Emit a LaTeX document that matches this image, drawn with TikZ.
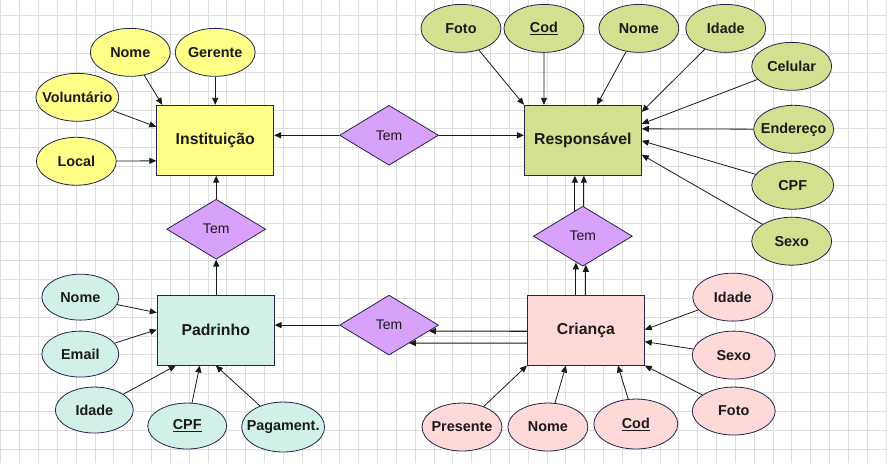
\documentclass[tikz,border=0pt]{standalone}
\usepackage{fontspec}
\setmainfont{Liberation Sans}
\usetikzlibrary{arrows.meta,calc,shapes.geometric}
\definecolor{ERInk}{HTML}{1A1A1A}
\definecolor{EREdge}{HTML}{24244E}
\definecolor{ERGrid}{HTML}{DEDEDE}
\definecolor{ERYellow}{HTML}{FFFF88}
\definecolor{ERGreen}{HTML}{D3E08F}
\definecolor{ERPink}{HTML}{FFD8D8}
\definecolor{ERTeal}{HTML}{D0F0E8}
\definecolor{ERViolet}{HTML}{D8A2FB}
% keep attribute text from widening the ellipse
\newcommand{\attrlbl}[1]{\makebox[0pt]{#1}}
\tikzset{
  gridline/.style={ERGrid,line width=0.8pt},
  attrlink/.style={-{Triangle[length=7pt,width=6pt]},ERInk,line width=0.8pt},
  rellink/.style={attrlink,line width=1.2pt},
  entity/.style={draw=EREdge,line width=0.9pt,minimum width=117pt,minimum height=70pt,
                 inner sep=0pt,text=ERInk,font=\fontsize{15.8}{18}\selectfont\bfseries},
  attr/.style={ellipse,draw=EREdge,line width=0.8pt,minimum width=80pt,minimum height=48pt,
               inner sep=0pt,text=ERInk,font=\fontsize{14.4}{16}\selectfont\bfseries},
  relation/.style={diamond,draw=EREdge,line width=0.8pt,fill=ERViolet,minimum width=99pt,
                   minimum height=60pt,inner sep=0pt,text=ERInk,font=\fontsize{14}{16}\selectfont},
}
\begin{document}
\begin{tikzpicture}[x=1pt,y=-1pt]
  % background grid
  \fill[white] (0,0) rectangle (887,463);
  \foreach \k in {0,...,47}
    \draw[gridline] ({0.45+18.85*\k},0) -- ({0.45+18.85*\k},463);
  \foreach \k in {0,...,23}
    \draw[gridline] (0,{15.5+18.85*\k}) -- (887,{15.5+18.85*\k});
  \useasboundingbox (0,0) rectangle (887,463);

  % entities
  \node[entity,fill=ERYellow] (inst) at (215,140) {Instituição};
  \node[entity,fill=ERGreen] (resp) at (583,140) {Responsável};
  \node[entity,fill=ERPink] (cri) at (586,330) {Criança};
  \node[entity,fill=ERTeal] (pad) at (215.5,330) {Padrinho};

  % relationships
  \node[relation] (temInst) at (389,135) {Tem};
  \node[relation] (temPad) at (216,229) {Tem};
  \node[relation] (temResp) at (583,236) {Tem};
  \node[relation] (temCri) at (389,325) {Tem};

  % Instituicao attributes
  \node[attr,fill=ERYellow] (instNome) at (130,52) {\attrlbl{Nome}};
  \node[attr,fill=ERYellow] (instGerente) at (215,52) {\attrlbl{Gerente}};
  \node[attr,fill=ERYellow,minimum width=83pt] (instVolunt) at (77,97) {\attrlbl{Voluntário}};
  \node[attr,fill=ERYellow] (instLocal) at (76,161) {\attrlbl{Local}};

  % Responsavel attributes
  \node[attr,fill=ERGreen] (respFoto) at (461,28) {\attrlbl{Foto}};
  \node[attr,fill=ERGreen] (respCod) at (544,28) {\attrlbl{\underline{Cod}}};
  \node[attr,fill=ERGreen] (respNome) at (639,28) {\attrlbl{Nome}};
  \node[attr,fill=ERGreen] (respIdade) at (726,28) {\attrlbl{Idade}};
  \node[attr,fill=ERGreen] (respCelular) at (792,66) {\attrlbl{Celular}};
  \node[attr,fill=ERGreen] (respEnder) at (794,129) {\attrlbl{Endereço}};
  \node[attr,fill=ERGreen,minimum width=82pt] (respCPF) at (793,185) {\attrlbl{CPF}};
  \node[attr,fill=ERGreen] (respSexo) at (792,241) {\attrlbl{Sexo}};

  % Crianca attributes
  \node[attr,fill=ERPink] (criIdade) at (733,297) {\attrlbl{Idade}};
  \node[attr,fill=ERPink,minimum width=83pt] (criSexo) at (734,355) {\attrlbl{Sexo}};
  \node[attr,fill=ERPink,minimum width=83pt] (criFoto) at (734,411) {\attrlbl{Foto}};
  \node[attr,fill=ERPink] (criPresente) at (462,427) {\attrlbl{Presente}};
  \node[attr,fill=ERPink] (criNome) at (548,427) {\attrlbl{Nome}};
  \node[attr,fill=ERPink,minimum width=84pt,minimum height=50pt] (criCod) at (636,424) {\attrlbl{\underline{Cod}}};

  % Padrinho attributes
  \node[attr,fill=ERTeal,minimum width=77pt,minimum height=46pt] (padNome) at (80,297) {\attrlbl{Nome}};
  \node[attr,fill=ERTeal,minimum width=77pt,minimum height=46pt] (padEmail) at (80,354) {\attrlbl{Email}};
  \node[attr,fill=ERTeal,minimum width=78pt,minimum height=46pt] (padIdade) at (94,410) {\attrlbl{Idade}};
  \node[attr,fill=ERTeal,minimum width=79pt,minimum height=46pt] (padCPF) at (187,426) {\attrlbl{\underline{CPF}}};
  \node[attr,fill=ERTeal,minimum width=83pt,minimum height=50pt] (padPagam) at (283,427) {\attrlbl{Pagament.}};

  % relationship connectors
  \draw[rellink] (temInst.west) -- (temInst.west -| inst.east);
  \draw[rellink] (temInst.east) -- (temInst.east -| resp.west);
  \draw[rellink] (temPad.north) -- (temPad.north |- inst.south);
  \draw[rellink] (temPad.south |- pad.north) -- (temPad.south);
  \draw[rellink] (temCri.west) -- (temCri.west -| pad.east);
  \draw[rellink] ($(cri.north west)+(0,36.5)$) -- ($(temCri.east)+(-10,6)$);
  \draw[rellink] ($(cri.north west)+(0,48.5)$) -- ($(temCri.east)+(-30,18)$);
  \draw[rellink] ($(temResp.north)+(-8,4.8)$) -- ($(resp.south)+(-8,0)$);
  \draw[rellink] ($(temResp.north)+(1,0.6)$) -- ($(resp.south)+(1,0)$);
  \draw[rellink] ($(cri.north)+(-10,0)$) -- ($(temResp.south)+(-7,-4.2)$);
  \draw[rellink] (cri.north) -- ($(temResp.south)+(3,-1.8)$);

  % attribute connectors
  \draw[attrlink] (instNome) -- ($(inst.north west)+(6,0)$);
  \draw[attrlink] (instGerente) -- (inst.north);
  \draw[attrlink] (instVolunt) -- ($(inst.north west)+(0,22)$);
  \draw[attrlink] (instLocal) -- ($(inst.north west)+(0,56)$);

  \draw[attrlink] (respFoto) -- (resp.north west);
  \draw[attrlink] (respCod) -- ($(resp.north west)+(20,0)$);
  \draw[attrlink] (respNome) -- ($(resp.north west)+(73,0)$);
  \draw[attrlink] (respIdade) -- ($(resp.north east)+(0,7)$);
  \draw[attrlink] (respCelular) -- ($(resp.north east)+(0,19)$);
  \draw[attrlink] (respEnder) -- ($(resp.north east)+(0,24)$);
  \draw[attrlink] (respCPF) -- ($(resp.north east)+(0,36)$);
  \draw[attrlink] (respSexo) -- ($(resp.north east)+(0,50)$);

  \draw[attrlink] (criIdade) -- ($(cri.north east)+(0,35)$);
  \draw[attrlink] (criSexo) -- ($(cri.north east)+(0,47)$);
  \draw[attrlink] (criFoto) -- (cri.south east);
  \draw[attrlink] (criPresente) -- (cri.south west);
  \draw[attrlink] (criNome) -- ($(cri.south west)+(39,0)$);
  \draw[attrlink] (criCod) -- ($(cri.south west)+(91,0)$);

  \draw[attrlink] (padNome) -- ($(pad.north west)+(0,18)$);
  \draw[attrlink] (padEmail) -- ($(pad.north west)+(0,35)$);
  \draw[attrlink] (padIdade) -- ($(pad.south west)+(19,0)$);
  \draw[attrlink] (padCPF) -- ($(pad.south west)+(43,0)$);
  \draw[attrlink] (padPagam) -- ($(pad.south west)+(59,0)$);
\end{tikzpicture}
\end{document}
